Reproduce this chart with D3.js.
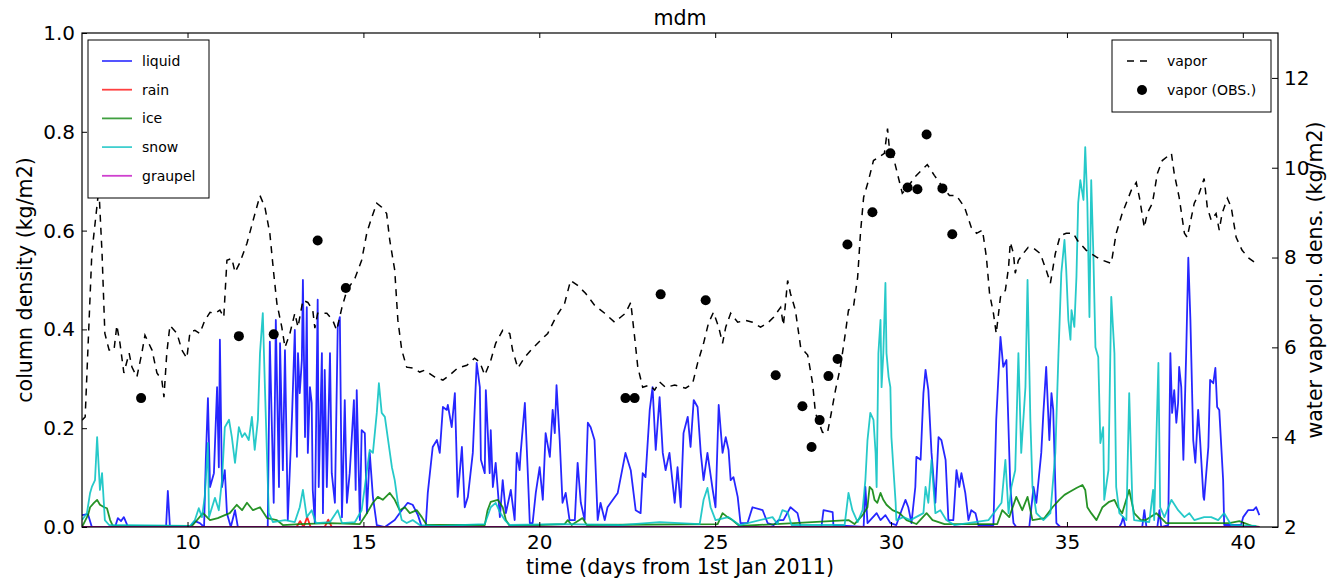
<!DOCTYPE html>
<html><head><meta charset="utf-8">
<script src="https://cdn.jsdelivr.net/npm/d3@7"></script>
<style>
body{margin:0;background:#fff;}
svg{display:block;font-family:"DejaVu Sans",sans-serif;}
</style></head>
<body>
<svg id="c" width="1329" height="582"></svg>
<script>
// ---- data: [day, value] ----
const liquid = [[7.00,0.024],[7.17,0.026],[7.28,0],[7.94,0],[8.02,0.018],[8.11,0.012],[8.19,0.02],[8.31,0],[9.39,0],[9.44,0.073],[9.50,0],[10.07,0],[10.21,0.012],[10.35,0.008],[10.47,0],[10.52,0.136],[10.58,0.261],[10.64,0.081],[10.75,0.109],[10.84,0.283],[10.89,0.121],[10.92,0.379],[10.98,0.081],[11.06,0.115],[11.12,0.028],[11.23,0],[11.35,0.034],[11.43,0],[12.28,0],[12.34,0.375],[12.45,0.049],[12.51,0.419],[12.60,0.081],[12.63,0.372],[12.71,0.115],[12.77,0.358],[12.82,0.150],[12.85,0.014],[12.97,0.223],[13.05,0.399],[13.11,0.142],[13.14,0.352],[13.19,0.271],[13.25,0.338],[13.28,0.500],[13.34,0.182],[13.39,0.445],[13.42,0.150],[13.48,0.283],[13.53,0.251],[13.56,0.075],[13.62,0.008],[13.70,0.460],[13.73,0.081],[13.82,0.352],[13.85,0.028],[13.90,0.318],[13.96,0.081],[14.05,0.352],[14.10,0.109],[14.19,0.049],[14.27,0.405],[14.33,0.425],[14.39,0.020],[14.41,0.075],[14.47,0.257],[14.53,0.049],[14.61,0.109],[14.67,0.182],[14.73,0.257],[14.78,0.075],[14.81,0.277],[14.90,0.014],[14.95,0.196],[15.04,0.190],[15.10,0.028],[15.18,0.150],[15.27,0.061],[15.38,0.004],[15.61,0],[15.89,0.014],[16.09,0.034],[16.26,0.049],[16.40,0.045],[16.55,0.024],[16.66,0],[16.77,0],[16.83,0.069],[16.97,0.162],[17.09,0.176],[17.17,0.150],[17.26,0.243],[17.37,0.237],[17.40,0.247],[17.51,0.202],[17.60,0.271],[17.68,0.061],[17.80,0.162],[17.88,0.040],[17.97,0.061],[18.11,0.150],[18.22,0.332],[18.31,0.283],[18.34,0.136],[18.45,0.109],[18.48,0.277],[18.59,0.109],[18.62,0.196],[18.68,0.081],[18.76,0.130],[18.88,0.020],[18.96,0.095],[19.05,0.028],[19.19,0.075],[19.30,0.014],[19.36,0.150],[19.44,0.115],[19.47,0.150],[19.59,0.251],[19.67,0.115],[19.73,0.008],[19.81,0.008],[19.90,0.069],[20.01,0.121],[20.10,0.055],[20.18,0.190],[20.30,0.142],[20.38,0.237],[20.44,0.190],[20.49,0.287],[20.58,0.176],[20.66,0.049],[20.75,0.069],[20.86,0.014],[21.01,0.014],[21.09,0.130],[21.18,0.049],[21.29,0.014],[21.38,0.211],[21.46,0.202],[21.57,0.176],[21.66,0.014],[21.74,0.049],[21.86,0.014],[21.94,0.040],[22.03,0.049],[22.23,0.069],[22.45,0.150],[22.60,0.115],[22.74,0.034],[22.88,0.028],[22.94,0.109],[23.02,0.101],[23.14,0.237],[23.22,0.283],[23.31,0.156],[23.42,0.263],[23.51,0.150],[23.59,0.115],[23.70,0.150],[23.85,0.049],[23.93,0.121],[24.02,0.040],[24.10,0.190],[24.22,0.223],[24.30,0.162],[24.39,0.257],[24.50,0.243],[24.59,0.150],[24.67,0.095],[24.78,0.150],[24.93,0.075],[25.01,0.040],[25.10,0.247],[25.21,0.150],[25.30,0.182],[25.38,0.156],[25.44,0.095],[25.52,0.101],[25.64,0.061],[25.72,0.008],[25.92,0.008],[26.06,0.040],[26.35,0.034],[26.49,0.008],[26.66,0.004],[26.80,0.014],[26.94,0.014],[27.14,0.040],[27.34,0.028],[27.43,0],[28.02,0],[28.08,0.034],[28.34,0.030],[28.36,0.004],[29.22,0],[29.27,0.081],[29.33,0.008],[29.59,0.028],[29.70,0.014],[29.84,0.024],[29.98,0.008],[30.15,0.004],[30.30,0.034],[30.41,0.055],[30.49,0.040],[30.58,0.008],[30.69,0.081],[30.72,0.142],[30.84,0.136],[30.92,0.271],[30.98,0.318],[31.06,0.277],[31.15,0.150],[31.26,0.049],[31.35,0.182],[31.43,0.176],[31.55,0.136],[31.63,0.014],[31.77,0.014],[31.86,0.115],[31.94,0.081],[32.00,0.109],[32.11,0.069],[32.20,0.014],[32.28,0.034],[32.40,0.028],[32.48,0.004],[32.91,0.004],[32.99,0.217],[33.11,0.385],[33.19,0.324],[33.28,0.338],[33.39,0.081],[33.48,0.008],[33.56,0],[33.93,0],[34.05,0.081],[34.13,0.049],[34.27,0.150],[34.33,0.231],[34.41,0.324],[34.50,0.176],[34.56,0.271],[34.61,0.237],[34.70,0.008],[34.81,0],[36.49,0],[36.55,0.008],[36.60,0.020],[36.66,0],[37.14,0],[37.20,0.034],[37.26,0],[37.57,0],[37.63,0.034],[37.68,0],[37.88,0.004],[37.94,0.352],[37.99,0.231],[38.05,0.277],[38.11,0.211],[38.16,0.251],[38.19,0.324],[38.25,0.283],[38.31,0.136],[38.39,0.352],[38.45,0.545],[38.51,0.419],[38.59,0.176],[38.65,0.130],[38.73,0.237],[38.79,0.170],[38.88,0.061],[38.90,0.055],[39.02,0.162],[39.07,0.298],[39.16,0.291],[39.22,0.322],[39.27,0.243],[39.33,0.237],[39.44,0.095],[39.47,0.004],[39.95,0.004],[40.01,0.020],[40.15,0.034],[40.30,0.034],[40.38,0.040],[40.47,0.024]];

const rain = [[7.00,0],[13.10,0],[13.20,0.012],[13.30,0],[13.40,0.020],[13.50,0],[13.90,0],[14.00,0.015],[14.10,0],[40.47,0]];

const ice = [[7.00,0],[7.17,0.024],[7.23,0.040],[7.34,0.049],[7.43,0.055],[7.51,0.045],[7.63,0.040],[7.71,0.038],[7.80,0.014],[7.88,0.002],[10.07,0.002],[10.15,0.004],[10.44,0.028],[10.64,0.014],[10.86,0.018],[11.06,0.024],[11.20,0.028],[11.40,0.045],[11.55,0.034],[11.69,0.049],[11.86,0.034],[12.06,0.040],[12.26,0.018],[12.54,0.014],[12.71,0.004],[13.19,0.006],[14.05,0.008],[14.90,0.006],[15.10,0.028],[15.27,0.049],[15.41,0.061],[15.55,0.055],[15.75,0.069],[15.89,0.055],[16.03,0.034],[16.18,0.040],[16.32,0.028],[16.52,0.034],[16.66,0.020],[16.80,0.004],[18.45,0.004],[18.53,0.034],[18.62,0.051],[18.82,0.055],[18.96,0.040],[19.05,0.014],[19.16,0.002],[20.72,0.006],[20.81,0.014],[20.92,0.004],[21.23,0.018],[21.35,0.004],[25.07,0.006],[25.21,0.028],[25.35,0.020],[25.49,0.014],[25.69,0.002],[28.79,0.014],[28.96,0.006],[29.19,0.024],[29.33,0.040],[29.39,0.081],[29.47,0.075],[29.53,0.055],[29.61,0.049],[29.70,0.069],[29.78,0.055],[29.87,0.045],[30.04,0.034],[30.24,0.028],[30.44,0.014],[30.72,0.006],[31.01,0.028],[31.18,0.014],[31.52,0.006],[33.02,0.006],[33.16,0.034],[33.36,0.020],[33.56,0.061],[33.73,0.034],[33.88,0.061],[34.02,0.014],[34.36,0.018],[34.59,0.040],[34.78,0.055],[34.93,0.065],[35.07,0.071],[35.27,0.079],[35.44,0.085],[35.52,0.075],[35.58,0.040],[35.69,0.028],[35.84,0.014],[36.01,0.040],[36.20,0.051],[36.35,0.055],[36.45,0.040],[36.57,0.028],[36.77,0.075],[36.91,0.028],[37.10,0.014],[37.24,0.014],[37.54,0.028],[37.82,0.008],[39.61,0.008],[39.90,0.012],[40.27,0.002],[40.47,0]];

const snow = [[7.00,0.014],[7.14,0.028],[7.23,0.069],[7.28,0.081],[7.37,0.095],[7.43,0.182],[7.48,0.115],[7.51,0.075],[7.57,0.109],[7.65,0.014],[7.77,0.004],[10.07,0.002],[10.21,0.014],[10.32,0.038],[10.41,0.020],[10.49,0.061],[10.58,0.170],[10.61,0.020],[10.78,0.059],[10.89,0.034],[10.98,0.095],[11.06,0.202],[11.18,0.217],[11.26,0.182],[11.35,0.130],[11.46,0.202],[11.55,0.182],[11.63,0.190],[11.74,0.176],[11.83,0.223],[11.91,0.156],[12.00,0.217],[12.06,0.352],[12.14,0.433],[12.20,0.283],[12.26,0.142],[12.31,0.028],[12.43,0.010],[12.77,0.014],[13.05,0.010],[13.19,0.040],[13.28,0.075],[13.39,0.020],[13.53,0.034],[13.65,0.008],[14.05,0.010],[14.27,0.034],[14.39,0.008],[14.76,0.010],[14.95,0.034],[15.04,0.081],[15.10,0.115],[15.18,0.156],[15.27,0.150],[15.38,0.231],[15.44,0.291],[15.52,0.231],[15.61,0.223],[15.69,0.182],[15.81,0.121],[15.89,0.095],[15.98,0.049],[16.09,0.014],[16.23,0.008],[16.40,0.014],[16.60,0.004],[17.17,0.002],[18.45,0.006],[18.62,0.040],[18.76,0.049],[18.88,0.030],[19.02,0.014],[19.16,0.004],[20.58,0.006],[22.28,0.004],[23.42,0.010],[24.56,0.006],[24.67,0.055],[24.78,0.079],[24.87,0.040],[25.01,0.014],[25.38,0.020],[25.69,0.004],[26.63,0.020],[26.77,0.006],[26.91,0.034],[27.06,0.030],[27.17,0.004],[28.68,0.004],[28.79,0.069],[28.90,0.034],[29.05,0.010],[29.19,0.034],[29.27,0.095],[29.33,0.176],[29.41,0.231],[29.50,0.217],[29.56,0.150],[29.59,0.081],[29.64,0.352],[29.70,0.419],[29.73,0.283],[29.78,0.352],[29.84,0.494],[29.87,0.352],[29.93,0.304],[29.98,0.283],[30.01,0.182],[30.07,0.115],[30.13,0.049],[30.15,0.014],[30.35,0.020],[30.55,0.014],[30.92,0.028],[30.98,0.081],[31.06,0.049],[31.15,0.136],[31.26,0.028],[31.40,0.034],[31.57,0.014],[31.80,0.004],[32.77,0.014],[33.14,0.049],[33.25,0.136],[33.34,0.028],[33.42,0.081],[33.53,0.115],[33.62,0.352],[33.70,0.150],[33.82,0.283],[33.88,0.500],[33.96,0.217],[34.02,0.081],[34.13,0.028],[34.33,0.014],[34.53,0.028],[34.67,0.150],[34.76,0.352],[34.84,0.514],[34.93,0.581],[34.98,0.520],[35.04,0.419],[35.10,0.379],[35.13,0.439],[35.21,0.405],[35.27,0.506],[35.32,0.656],[35.38,0.702],[35.47,0.662],[35.52,0.769],[35.58,0.656],[35.64,0.425],[35.69,0.702],[35.75,0.555],[35.81,0.364],[35.89,0.344],[35.95,0.170],[36.03,0.202],[36.06,0.055],[36.18,0.115],[36.26,0.466],[36.35,0.352],[36.40,0.081],[36.49,0.028],[36.69,0.014],[36.77,0.271],[36.86,0.049],[36.91,0.014],[37.34,0.010],[37.45,0.075],[37.48,0.014],[37.60,0.332],[37.65,0.040],[37.77,0.020],[37.97,0.055],[38.16,0.034],[38.34,0.020],[38.48,0.028],[38.62,0.014],[38.90,0.020],[39.10,0.020],[39.30,0.014],[39.47,0.028],[39.67,0.004],[40.38,0.002]];

const graupel = [[7.00,0],[40.47,0]];

const vapor = [[7.00,4.38],[7.09,4.45],[7.28,8.10],[7.48,9.54],[7.57,8.09],[7.65,6.31],[7.77,5.94],[7.91,5.94],[7.99,6.49],[8.08,6.09],[8.19,5.43],[8.34,5.87],[8.42,5.56],[8.56,5.34],[8.70,5.87],[8.79,6.27],[8.99,5.94],[9.13,5.43],[9.27,5.27],[9.33,4.89],[9.41,5.87],[9.50,6.49],[9.70,6.31],[9.84,5.94],[9.98,5.76],[10.07,6.34],[10.21,6.38],[10.35,6.31],[10.49,6.60],[10.64,6.78],[10.78,6.76],[10.92,6.83],[11.03,6.67],[11.12,7.94],[11.26,7.98],[11.35,7.67],[11.49,7.89],[11.69,8.32],[11.89,8.90],[12.06,9.38],[12.20,9.12],[12.34,8.54],[12.45,7.65],[12.54,6.98],[12.68,6.45],[12.77,6.00],[12.91,6.31],[13.05,6.76],[13.14,6.45],[13.28,7.05],[13.42,7.00],[13.56,6.83],[13.62,6.43],[13.70,6.76],[13.96,6.76],[14.13,6.60],[14.24,6.38],[14.39,6.89],[14.53,7.27],[14.76,7.54],[14.95,7.94],[15.10,8.56],[15.24,8.90],[15.38,9.21],[15.52,9.12],[15.66,8.98],[15.75,8.38],[15.89,7.72],[15.98,6.60],[16.09,5.94],[16.23,5.56],[16.40,5.54],[16.60,5.45],[16.74,5.49],[17.03,5.34],[17.26,5.27],[17.45,5.38],[17.68,5.54],[17.94,5.60],[18.16,5.76],[18.31,5.67],[18.45,5.38],[18.62,5.71],[18.76,6.09],[18.96,6.38],[19.16,6.31],[19.24,5.94],[19.39,5.54],[19.59,5.78],[19.81,5.98],[20.04,6.16],[20.24,6.31],[20.47,6.67],[20.72,6.98],[20.89,7.49],[21.09,7.38],[21.32,7.20],[21.57,6.94],[21.86,6.76],[22.14,6.56],[22.31,6.67],[22.45,6.76],[22.60,7.00],[22.71,6.23],[22.80,5.56],[22.94,5.11],[23.14,5.16],[23.28,5.05],[23.42,5.23],[23.59,5.11],[23.85,5.16],[24.16,5.09],[24.36,5.20],[24.50,5.65],[24.67,6.09],[24.81,6.54],[24.95,6.78],[25.10,6.45],[25.21,6.09],[25.30,6.45],[25.44,6.76],[25.64,6.56],[25.86,6.60],[26.06,6.56],[26.29,6.45],[26.49,6.54],[26.66,6.67],[26.86,6.89],[26.94,6.49],[27.06,7.49],[27.14,7.20],[27.28,6.83],[27.43,6.00],[27.63,5.83],[27.77,5.20],[27.85,4.54],[28.05,4.11],[28.19,4.09],[28.28,4.45],[28.42,5.05],[28.56,5.56],[28.70,6.31],[28.79,6.83],[28.93,6.89],[29.05,7.56],[29.13,8.54],[29.22,9.34],[29.36,9.72],[29.50,10.16],[29.81,10.32],[29.90,10.87],[29.95,10.45],[30.04,10.32],[30.18,9.87],[30.32,9.43],[30.47,9.56],[30.66,9.78],[30.86,9.94],[31.03,10.07],[31.23,9.83],[31.43,9.61],[31.66,9.38],[31.86,9.38],[32.09,9.12],[32.28,8.67],[32.43,8.54],[32.60,8.61],[32.71,8.01],[32.80,7.20],[32.91,6.76],[32.99,6.31],[33.11,7.12],[33.25,7.27],[33.34,7.78],[33.39,8.34],[33.48,8.09],[33.53,7.65],[33.62,7.94],[33.76,8.09],[33.90,8.23],[34.05,8.21],[34.24,8.09],[34.41,7.72],[34.53,7.43],[34.67,8.09],[34.81,8.49],[34.98,8.54],[35.18,8.54],[35.30,8.38],[35.55,8.16],[35.84,8.01],[36.01,7.94],[36.26,7.87],[36.40,8.54],[36.57,8.98],[36.83,9.50],[36.97,9.67],[37.06,9.34],[37.20,8.67],[37.28,8.98],[37.43,9.21],[37.57,9.87],[37.71,10.16],[37.97,10.32],[38.05,9.87],[38.19,9.34],[38.34,8.54],[38.42,8.45],[38.62,9.21],[38.76,9.43],[38.90,9.76],[38.99,9.12],[39.10,8.83],[39.24,8.98],[39.33,8.61],[39.41,8.98],[39.56,9.32],[39.67,9.12],[39.81,8.45],[39.98,8.16],[40.18,7.98],[40.38,7.87]];

const vaporObs = [[8.68,4.87],[11.46,6.25],[12.45,6.29],[13.70,8.38],[14.50,7.32],[22.45,4.87],[22.71,4.87],[23.45,7.18],[24.73,7.05],[26.72,5.38],[27.48,4.69],[27.74,3.78],[27.97,4.38],[28.22,5.36],[28.48,5.74],[28.76,8.29],[29.47,9.01],[29.98,10.32],[30.47,9.56],[30.75,9.52],[31.01,10.74],[31.46,9.54],[31.74,8.52]];

const xTicks = [10,15,20,25,30,35,40];
const yLeftTicks = [0,0.2,0.4,0.6,0.8,1.0];
const yRightTicks = [2,4,6,8,10,12];
const hydroSeries = [
  {name:"liquid", data:liquid, color:"#0000ff"},
  {name:"rain", data:rain, color:"#ff0000"},
  {name:"ice", data:ice, color:"#008000"},
  {name:"snow", data:snow, color:"#00bfbf"},
  {name:"graupel", data:graupel, color:"#bf00bf"}
];
const title = "mdm";
const xLabel = "time (days from 1st Jan 2011)";
const yLeftLabel = "column density (kg/m2)";
const yRightLabel = "water vapor col. dens. (kg/m2)";

// ---- drawing ----
const L=82, R=1278, T=33, B=527;
const svg = d3.select("#c");
const x = d3.scaleLinear([7,41],[L,R]);
const yL = d3.scaleLinear([0,1],[B,T]);
const yR = d3.scaleLinear([2,13],[B,T]);
const FS = 20, LFS = 20.6;

svg.append("defs").append("clipPath").attr("id","clip")
  .append("rect").attr("x",L).attr("y",T).attr("width",R-L).attr("height",B-T);

const plot = svg.append("g").attr("clip-path","url(#clip)");
const lineL = d3.line().x(d=>x(d[0])).y(d=>yL(d[1]));
hydroSeries.forEach(s=>{
  plot.append("path").datum(s.data).attr("d",lineL)
    .attr("fill","none").attr("stroke",s.color).attr("stroke-width",1.8)
    .attr("stroke-opacity",0.85).attr("stroke-linejoin","round");
});
const lineR = d3.line().x(d=>x(d[0])).y(d=>yR(d[1]));
plot.append("path").datum(vapor).attr("d",lineR)
  .attr("fill","none").attr("stroke","#000").attr("stroke-width",1.5)
  .attr("stroke-dasharray","7,6");
plot.selectAll("circle.obs").data(vaporObs).join("circle").attr("class","obs")
  .attr("cx",d=>x(d[0])).attr("cy",d=>yR(d[1])).attr("r",5).attr("fill","#000");

// frame
svg.append("rect").attr("x",L).attr("y",T).attr("width",R-L).attr("height",B-T)
  .attr("fill","none").attr("stroke","#000").attr("stroke-width",1.2);

function styleAxis(g){
  g.select(".domain").remove();
  g.selectAll("line").attr("stroke","#000");
  g.selectAll("text").attr("font-size",FS).attr("font-family","DejaVu Sans").attr("fill","#000");
}
svg.append("g").attr("transform",`translate(0,${B})`)
  .call(d3.axisBottom(x).tickValues(xTicks).tickSize(-5).tickPadding(8).tickFormat(d3.format("d")))
  .call(styleAxis);
svg.append("g").attr("transform",`translate(0,${T})`)
  .call(d3.axisTop(x).tickValues(xTicks).tickSize(-5).tickFormat(""))
  .call(styleAxis);
svg.append("g").attr("transform",`translate(${L},0)`)
  .call(d3.axisLeft(yL).tickValues(yLeftTicks).tickSize(-5).tickPadding(7).tickFormat(d3.format(".1f")))
  .call(styleAxis);
svg.append("g").attr("transform",`translate(${R},0)`)
  .call(d3.axisRight(yR).tickValues(yRightTicks).tickSize(-6).tickPadding(6).tickFormat(d3.format("d")))
  .call(styleAxis);

// labels
svg.append("text").attr("x",(L+R)/2).attr("y",25).attr("text-anchor","middle")
  .attr("font-size",LFS).text(title);
svg.append("text").attr("x",(L+R)/2).attr("y",574).attr("text-anchor","middle")
  .attr("font-size",LFS).text(xLabel);
svg.append("text").attr("transform",`translate(32,${(T+B)/2}) rotate(-90)`).attr("text-anchor","middle")
  .attr("font-size",LFS).text(yLeftLabel);
svg.append("text").attr("transform",`translate(1322,${(T+B)/2}) rotate(-90)`).attr("text-anchor","middle")
  .attr("font-size",LFS).text(yRightLabel);

// legend 1
const lg1 = svg.append("g");
lg1.append("rect").attr("x",88).attr("y",40).attr("width",121).attr("height",158)
  .attr("fill","#fff").attr("stroke","#000").attr("stroke-width",1);
hydroSeries.forEach((s,i)=>{
  const yy = 61 + i*28.7;
  lg1.append("line").attr("x1",102).attr("x2",132).attr("y1",yy).attr("y2",yy)
    .attr("stroke",s.color).attr("stroke-width",1.8).attr("stroke-opacity",0.75);
  lg1.append("text").attr("x",142).attr("y",yy).attr("dy","0.35em").attr("font-size",14).text(s.name);
});
// legend 2
const lg2 = svg.append("g");
lg2.append("rect").attr("x",1112).attr("y",40).attr("width",159).attr("height",72)
  .attr("fill","#fff").attr("stroke","#000").attr("stroke-width",1);
lg2.append("line").attr("x1",1127).attr("x2",1153).attr("y1",61).attr("y2",61)
  .attr("stroke","#000").attr("stroke-width",1.5).attr("stroke-dasharray","7,6");
lg2.append("text").attr("x",1167).attr("y",61).attr("dy","0.35em").attr("font-size",14).text("vapor");
lg2.append("circle").attr("cx",1142).attr("cy",90).attr("r",5).attr("fill","#000");
lg2.append("text").attr("x",1167).attr("y",90).attr("dy","0.35em").attr("font-size",14).text("vapor (OBS.)");
</script>
</body></html>
